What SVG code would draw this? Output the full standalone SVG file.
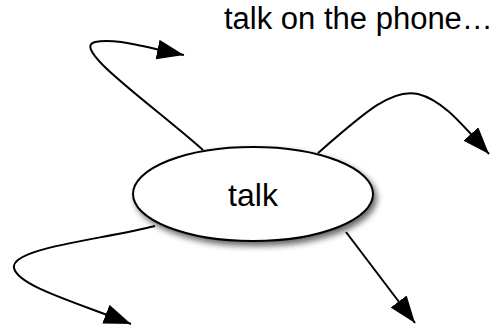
<svg xmlns="http://www.w3.org/2000/svg" width="497" height="333" viewBox="0 0 497 333">
<style>
.edge{fill:none;stroke:#000;stroke-width:2;marker-end:url(#arr)}
.lbl{font-family:"Liberation Sans",Arial,sans-serif;font-size:32px;fill:#000}
</style>
<defs>
<marker id="arr" markerUnits="userSpaceOnUse" markerWidth="28" markerHeight="20" viewBox="0 0 28 20" refX="27" refY="10" orient="auto">
<path d="M0,0 L27,10 L0,20 Z" fill="#000"/>
</marker>
<filter id="sh" x="-20%" y="-20%" width="150%" height="160%">
<feGaussianBlur in="SourceAlpha" stdDeviation="3"/>
<feOffset dx="3" dy="4" result="b"/>
<feComponentTransfer><feFuncA type="linear" slope="0.6"/></feComponentTransfer>
<feMerge><feMergeNode/><feMergeNode in="SourceGraphic"/></feMerge>
</filter>
</defs>
<rect width="497" height="333" fill="#fff"/>
<g id="connectors">
<path class="edge" d="M203,150 C150,103 70,48 95,42 C115,38 140,46 184,55"/>
<path class="edge" d="M318,153 C365,112 392,88 418,94 C442,100 460,122 489,154"/>
<path class="edge" d="M155,226 C100,240 10,248 14,268 C18,286 75,302 131,324"/>
<path class="edge" d="M346,232 L415,323"/>
</g>
<g id="talk">
<ellipse cx="253" cy="194" rx="120" ry="47" fill="#fff" stroke="#000" stroke-width="2" filter="url(#sh)"/>
<text class="lbl" x="253" y="206" text-anchor="middle">talk</text>
</g>
<g id="phone">
<text class="lbl" x="224" y="29" style="font-size:31px">talk on the phone…</text>
</g>
</svg>
